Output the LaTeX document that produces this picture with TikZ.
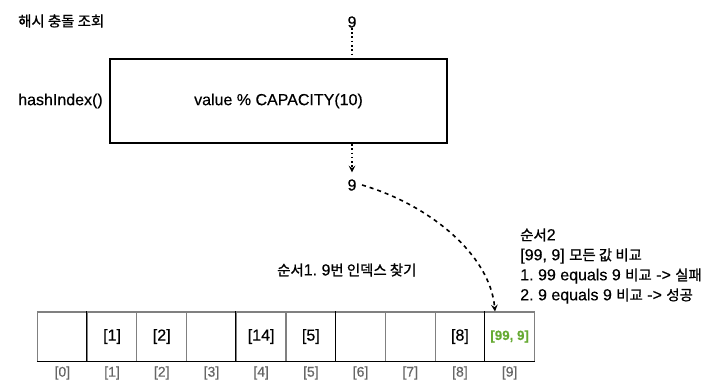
\documentclass[tikz,border=0pt]{standalone}
\usepackage{fontspec}
\setmainfont[FakeBold=0.4]{Liberation Sans}
\newfontfamily\kr[Scale=0.9,FakeBold=1]{Noto Sans CJK KR}
\definecolor{idxgray}{HTML}{666666}
\definecolor{cellgray}{HTML}{808080}
\definecolor{hitgreen}{HTML}{66AA33}
\frenchspacing
\begin{document}
\begin{tikzpicture}[>=stealth,x=0.75pt,y=-0.75pt,
    txt/.style={inner sep=0pt,font=\fontsize{12}{15}\selectfont},
    cell/.style={draw=cellgray,line width=0.8pt,minimum width=37.3pt,minimum height=36.8pt,inner sep=0pt,font=\fontsize{12}{15}\selectfont},
    idx/.style={inner sep=0pt,text=idxgray,font=\fontsize{10.5}{12}\selectfont}]
    \useasboundingbox (0,0) rectangle (715,386);
    % hash function
    \node[txt,anchor=west] (title) at (18,21) {\kr 해시 충돌 조회};
    \node[txt] (top9) at (352,22) {9};
    \node[txt,draw,line width=1.5pt,minimum width=252.75pt,minimum height=63pt] (hash) at (278.5,101) {value \% CAPACITY(10)};
    \node[txt,anchor=east] (fn) at (103,101) {hashIndex()};
    \node[txt] (mid9) at (352,185) {9};
    \draw[dotted,line width=1.2pt] (top9.south) -- (top9.south |- hash.north);
    \draw[dotted,line width=1.2pt,->,shorten >=5pt] (mid9.north |- hash.south) -- (mid9.north);
    % array
    \foreach \i/\v in {0/,1/[1],2/[2],3/,4/[14],5/[5],6/,7/,8/[8]}
        \node[cell] (c\i) at ({62.35+49.7*\i},336.5) {\v};
    \node[cell,text=hitgreen,font=\fontsize{10}{12}\selectfont\bfseries] (c9) at ({62.35+49.7*9},336.5) {[99, 9]};
    \draw[line width=0.8pt] (c1.north west) -- (c1.south west) (c4.north west) -- (c4.south west) (c6.north west) -- (c6.south west) (c9.north west) -- (c9.south west);
    \draw[line width=1.2pt] (c0.south west) -- (c9.south east);
    \foreach \i in {0,...,9}
        \node[idx] (i\i) at ({62.35+49.7*\i},373) {[\i]};
    % lookup
    \draw[dashed,line width=1.2pt,->] ([xshift=4pt]mid9.east) .. controls (430,205) and (490,255) .. ([xshift=-11pt]c9.north);
    \node[txt,anchor=west] (step1) at (277,270) {{\kr 순서}1. 9{\kr 번 인덱스 찾기}};
    \node[txt,anchor=west,align=left] (step2) at (520,266) {{\kr 순서}2\\{}[99, 9] {\kr 모든 값 비교}\\1. 99 equals 9 {\kr 비교} -> {\kr 실패}\\2. 9 equals 9 {\kr 비교} -> {\kr 성공}};
\end{tikzpicture}
\end{document}
